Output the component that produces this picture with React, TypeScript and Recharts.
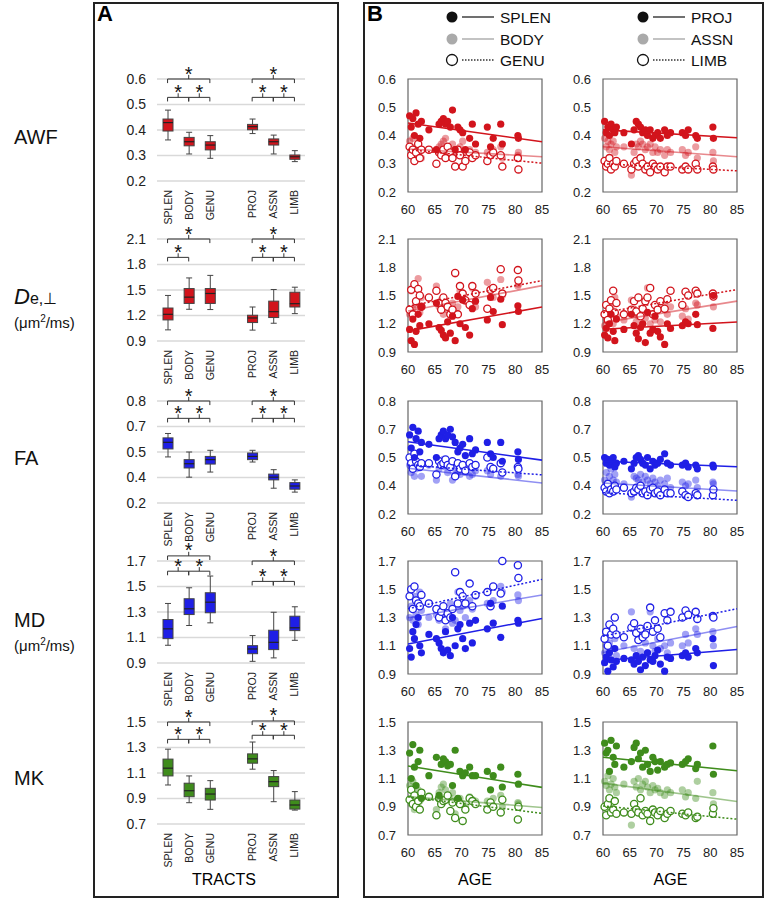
import React from 'react';
import {
  ComposedChart, Bar, XAxis, YAxis, CartesianGrid, ReferenceLine, ReferenceDot,
  ScatterChart, Scatter, ReferenceArea,
} from 'recharts';

const FONT = 'Arial, "Liberation Sans", Helvetica, sans-serif';

const RED = '#d2141c';
const BLUE = '#1f1fe6';
const GREEN = '#3f8c1c';

// box plot categories (empty slot 4 separates the two groups)
const TRACTS = ['SPLEN', 'BODY', 'GENU', '', 'PROJ', 'ASSN', 'LIMB'];
const TRACT_POS = [1, 2, 3, 5, 6, 7];

// y ticks per metric, with the labels as printed
const AWF_TICKS = [0.2, 0.3, 0.4, 0.5, 0.6];
const AWF_LABELS = ['0.2', '0.3', '0.4', '0.5', '0.6'];
const DE_TICKS = [0.9, 1.2, 1.5, 1.8, 2.1];
const DE_LABELS = ['0.9', '1.2', '1.5', '1.8', '2.1'];
const FA_TICKS = [0.2, 0.35, 0.5, 0.65, 0.8];
const FA_LABELS = ['0.2', '0.4', '0.5', '0.7', '0.8'];
const MD_TICKS = [0.9, 1.1, 1.3, 1.5, 1.7];
const MD_LABELS = ['0.9', '1.1', '1.3', '1.5', '1.7'];
const MK_TICKS = [0.7, 0.9, 1.1, 1.3, 1.5];
const MK_LABELS = ['0.7', '0.9', '1.1', '1.3', '1.5'];

// [min, q1, median, q3, max] for SPLEN, BODY, GENU, PROJ, ASSN, LIMB
const AWF_BOX = [
  [0.361, 0.396, 0.429, 0.443, 0.478], [0.306, 0.338, 0.354, 0.371, 0.391], [0.289, 0.322, 0.341, 0.354, 0.378],
  [0.386, 0.401, 0.413, 0.422, 0.443], [0.306, 0.341, 0.354, 0.365, 0.38], [0.276, 0.285, 0.295, 0.302, 0.319],
];
const DE_BOX = [
  [1.031, 1.148, 1.214, 1.288, 1.436], [1.273, 1.342, 1.416, 1.517, 1.642], [1.27, 1.342, 1.459, 1.517, 1.672],
  [1.028, 1.117, 1.171, 1.203, 1.3], [1.109, 1.176, 1.245, 1.369, 1.506], [1.222, 1.3, 1.339, 1.474, 1.533],
];
const FA_BOX = [
  [0.471, 0.518, 0.557, 0.583, 0.609], [0.352, 0.406, 0.431, 0.455, 0.5], [0.382, 0.429, 0.455, 0.474, 0.51],
  [0.441, 0.455, 0.474, 0.494, 0.51], [0.287, 0.336, 0.352, 0.37, 0.396], [0.264, 0.281, 0.3, 0.32, 0.336],
];
const MD_BOX = [
  [1.039, 1.091, 1.168, 1.241, 1.367], [1.194, 1.28, 1.325, 1.404, 1.49], [1.215, 1.294, 1.377, 1.451, 1.582],
  [0.913, 0.973, 1.01, 1.036, 1.115], [0.94, 1.005, 1.062, 1.157, 1.298], [1.078, 1.154, 1.176, 1.267, 1.341],
];
const MK_BOX = [
  [1.006, 1.077, 1.138, 1.209, 1.287], [0.867, 0.914, 0.961, 1.02, 1.077], [0.815, 0.888, 0.935, 0.98, 1.04],
  [1.13, 1.177, 1.211, 1.25, 1.343], [0.875, 0.993, 1.032, 1.072, 1.119], [0.809, 0.817, 0.849, 0.888, 0.954],
];

// significance brackets: [from slot, to slot, height as fraction of the axis]
const AWF_BRACKETS = [[1, 3, 1], [1, 2, 0.82], [2, 3, 0.82], [5, 7, 1], [5, 6, 0.82], [6, 7, 0.82]];
const DE_BRACKETS = [[1, 3, 1], [1, 2, 0.82], [5, 7, 1], [5, 6, 0.82], [6, 7, 0.82]];
const FA_BRACKETS = [[1, 3, 1], [1, 2, 0.83], [2, 3, 0.83], [5, 7, 1], [5, 6, 0.83], [6, 7, 0.83]];
const MD_BRACKETS = [[1, 3, 1.05], [1, 2, 0.9], [2, 3, 0.9], [5, 7, 1], [5, 6, 0.8], [6, 7, 0.8]];
const MK_BRACKETS = [[1, 3, 1], [1, 2, 0.83], [2, 3, 0.83], [5, 7, 1.01], [5, 6, 0.87], [6, 7, 0.87]];

// subject ages (same subjects in every scatter panel)
const AGES = [
  60.3, 60.6, 60.9, 61.2, 61.5, 61.9, 62.2, 62.5, 63.9, 65.3, 65.8, 66.2, 66.6, 67.0, 67.4, 67.9,
  68.3, 68.8, 69.3, 69.7, 70.2, 70.7, 71.5, 72.0, 72.6, 74.8, 75.4, 75.9, 77.3, 77.6, 80.5, 80.6,
];
const AGE_TICKS = [60, 65, 70, 75, 80, 85];

const AWF_SPLEN = [0.47, 0.43, 0.46, 0.40, 0.48, 0.44, 0.39, 0.45, 0.42, 0.35, 0.44, 0.45, 0.46, 0.44, 0.45, 0.43, 0.49, 0.35, 0.43, 0.42, 0.41, 0.35, 0.39, 0.44, 0.37, 0.43, 0.36, 0.39, 0.44, 0.37, 0.40, 0.39];
const AWF_BODY = [0.38, 0.36, 0.39, 0.34, 0.33, 0.36, 0.35, 0.32, 0.35, 0.30, 0.36, 0.37, 0.38, 0.39, 0.36, 0.34, 0.37, 0.35, 0.33, 0.36, 0.38, 0.34, 0.35, 0.33, 0.34, 0.34, 0.33, 0.35, 0.36, 0.32, 0.33, 0.34];
const AWF_GENU = [0.36, 0.33, 0.35, 0.31, 0.34, 0.37, 0.32, 0.35, 0.35, 0.30, 0.34, 0.33, 0.35, 0.32, 0.36, 0.34, 0.32, 0.29, 0.35, 0.33, 0.29, 0.31, 0.34, 0.32, 0.33, 0.31, 0.33, 0.34, 0.33, 0.29, 0.32, 0.28];
const AWF_PROJ = [0.45, 0.41, 0.43, 0.40, 0.44, 0.42, 0.41, 0.43, 0.41, 0.37, 0.42, 0.45, 0.44, 0.43, 0.41, 0.42, 0.40, 0.42, 0.39, 0.40, 0.41, 0.39, 0.42, 0.40, 0.41, 0.41, 0.40, 0.42, 0.40, 0.39, 0.43, 0.39];
const AWF_ASSN = [0.39, 0.36, 0.38, 0.35, 0.37, 0.38, 0.34, 0.36, 0.36, 0.26, 0.34, 0.37, 0.36, 0.38, 0.37, 0.35, 0.36, 0.37, 0.34, 0.36, 0.34, 0.35, 0.33, 0.35, 0.34, 0.35, 0.33, 0.34, 0.36, 0.32, 0.34, 0.31];
const AWF_LIMB = [0.31, 0.29, 0.30, 0.32, 0.28, 0.30, 0.29, 0.31, 0.30, 0.28, 0.30, 0.31, 0.29, 0.32, 0.30, 0.28, 0.29, 0.27, 0.30, 0.29, 0.28, 0.29, 0.27, 0.29, 0.29, 0.28, 0.29, 0.28, 0.30, 0.28, 0.29, 0.28];

const DE_SPLEN = [1.14, 1.02, 1.25, 0.98, 1.12, 1.30, 1.18, 1.38, 1.20, 1.42, 1.16, 1.13, 1.08, 1.05, 1.22, 1.10, 1.28, 1.02, 1.49, 1.20, 1.45, 1.16, 1.08, 1.36, 1.44, 1.24, 1.48, 1.33, 1.46, 1.19, 1.39, 1.33];
const DE_BODY = [1.30, 1.55, 1.36, 1.62, 1.40, 1.68, 1.32, 1.48, 1.47, 1.60, 1.38, 1.45, 1.30, 1.40, 1.35, 1.28, 1.42, 1.73, 1.38, 1.55, 1.50, 1.44, 1.40, 1.58, 1.38, 1.64, 1.55, 1.48, 1.67, 1.50, 1.60, 1.62];
const DE_GENU = [1.35, 1.56, 1.30, 1.62, 1.44, 1.57, 1.50, 1.38, 1.48, 1.55, 1.42, 1.35, 1.48, 1.42, 1.38, 1.30, 1.35, 1.74, 1.30, 1.60, 1.52, 1.45, 1.40, 1.60, 1.52, 1.36, 1.56, 1.58, 1.78, 1.52, 1.77, 1.66];
const DE_PROJ = [1.08, 1.15, 1.05, 1.20, 1.30, 1.12, 1.02, 1.25, 1.14, 1.30, 1.18, 1.10, 1.04, 1.16, 1.20, 1.00, 1.32, 1.10, 1.14, 1.28, 1.12, 1.06, 0.98, 1.20, 1.15, 1.18, 1.22, 1.20, 1.30, 1.19, 1.15, 1.50];
const DE_ASSN = [1.18, 1.25, 1.22, 1.30, 1.38, 1.20, 1.48, 1.28, 1.24, 1.45, 1.30, 1.22, 1.28, 1.33, 1.20, 1.26, 1.58, 1.20, 1.30, 1.24, 1.35, 1.22, 1.42, 1.30, 1.38, 1.28, 1.36, 1.25, 1.42, 1.40, 1.52, 1.38];
const DE_LIMB = [1.30, 1.40, 1.24, 1.36, 1.45, 1.55, 1.32, 1.42, 1.30, 1.35, 1.44, 1.33, 1.48, 1.28, 1.36, 1.44, 1.48, 1.58, 1.30, 1.40, 1.35, 1.44, 1.36, 1.46, 1.55, 1.40, 1.54, 1.50, 1.55, 1.52, 1.52, 1.49];

const FA_SPLEN = [0.62, 0.55, 0.66, 0.50, 0.60, 0.64, 0.53, 0.58, 0.57, 0.50, 0.60, 0.62, 0.64, 0.60, 0.62, 0.65, 0.61, 0.58, 0.53, 0.55, 0.57, 0.51, 0.60, 0.52, 0.54, 0.58, 0.52, 0.50, 0.58, 0.48, 0.53, 0.49];
const FA_BODY = [0.46, 0.42, 0.48, 0.40, 0.44, 0.47, 0.45, 0.40, 0.46, 0.38, 0.44, 0.47, 0.49, 0.45, 0.42, 0.46, 0.38, 0.44, 0.42, 0.41, 0.44, 0.42, 0.40, 0.41, 0.43, 0.43, 0.41, 0.44, 0.40, 0.42, 0.41, 0.40];
const FA_GENU = [0.50, 0.47, 0.44, 0.52, 0.48, 0.46, 0.45, 0.47, 0.47, 0.41, 0.48, 0.46, 0.47, 0.49, 0.46, 0.45, 0.48, 0.40, 0.47, 0.44, 0.46, 0.43, 0.47, 0.45, 0.46, 0.50, 0.45, 0.44, 0.47, 0.42, 0.45, 0.44];
const FA_PROJ = [0.50, 0.47, 0.49, 0.46, 0.48, 0.50, 0.45, 0.47, 0.48, 0.44, 0.47, 0.50, 0.51, 0.49, 0.47, 0.46, 0.50, 0.44, 0.48, 0.46, 0.47, 0.49, 0.52, 0.47, 0.46, 0.46, 0.47, 0.45, 0.46, 0.44, 0.46, 0.45];
const FA_ASSN = [0.38, 0.42, 0.36, 0.40, 0.44, 0.38, 0.41, 0.37, 0.36, 0.29, 0.40, 0.39, 0.38, 0.41, 0.37, 0.40, 0.38, 0.36, 0.39, 0.37, 0.35, 0.38, 0.36, 0.39, 0.34, 0.37, 0.35, 0.36, 0.38, 0.34, 0.37, 0.36];
const FA_LIMB = [0.34, 0.32, 0.36, 0.31, 0.33, 0.32, 0.35, 0.33, 0.34, 0.31, 0.32, 0.34, 0.33, 0.35, 0.31, 0.32, 0.30, 0.33, 0.34, 0.31, 0.32, 0.30, 0.33, 0.31, 0.31, 0.32, 0.30, 0.29, 0.31, 0.30, 0.30, 0.33];

const MD_SPLEN = [1.08, 1.02, 1.20, 1.15, 1.25, 1.30, 1.10, 1.05, 1.18, 1.15, 1.12, 1.08, 1.05, 1.20, 1.07, 1.03, 1.30, 1.10, 1.22, 1.25, 1.15, 1.08, 1.26, 1.12, 1.28, 1.22, 1.40, 1.26, 1.16, 1.38, 1.28, 1.26];
const MD_BODY = [1.30, 1.38, 1.28, 1.45, 1.32, 1.25, 1.48, 1.35, 1.30, 1.32, 1.28, 1.35, 1.30, 1.22, 1.33, 1.40, 1.26, 1.28, 1.48, 1.35, 1.38, 1.30, 1.42, 1.36, 1.45, 1.40, 1.38, 1.42, 1.52, 1.48, 1.46, 1.42];
const MD_GENU = [1.45, 1.50, 1.36, 1.52, 1.42, 1.40, 1.38, 1.46, 1.40, 1.36, 1.30, 1.34, 1.38, 1.28, 1.33, 1.30, 1.36, 1.62, 1.40, 1.48, 1.45, 1.40, 1.54, 1.38, 1.46, 1.48, 1.38, 1.52, 1.47, 1.70, 1.67, 1.58];
const MD_PROJ = [0.98, 1.02, 0.92, 1.05, 1.00, 0.95, 1.08, 0.99, 1.01, 1.00, 0.97, 1.03, 0.99, 0.93, 1.02, 0.96, 1.05, 1.00, 0.99, 1.03, 1.07, 0.97, 0.92, 1.02, 1.01, 1.03, 1.05, 1.02, 1.08, 1.05, 1.15, 0.96];
const MD_ASSN = [1.05, 1.10, 1.02, 1.12, 1.20, 1.08, 1.15, 1.03, 1.10, 1.34, 1.08, 1.02, 1.14, 1.06, 1.20, 1.12, 1.05, 1.34, 1.10, 1.06, 1.15, 1.08, 1.10, 1.05, 1.12, 1.10, 1.18, 1.12, 1.22, 1.18, 1.20, 1.10];
const MD_LIMB = [1.15, 1.20, 1.10, 1.25, 1.18, 1.22, 1.30, 1.18, 1.16, 1.23, 1.26, 1.19, 1.14, 1.22, 1.16, 1.18, 1.24, 1.37, 1.20, 1.28, 1.22, 1.16, 1.33, 1.28, 1.34, 1.30, 1.35, 1.32, 1.34, 1.29, 1.31, 1.30];

const MK_SPLEN = [1.28, 1.10, 1.34, 1.18, 1.05, 1.22, 1.30, 0.96, 1.12, 1.25, 0.98, 1.20, 1.24, 1.22, 1.19, 1.20, 1.05, 1.30, 0.96, 1.15, 1.12, 1.14, 1.18, 1.12, 1.12, 1.15, 1.02, 1.12, 1.18, 1.04, 1.13, 1.06];
const MK_BODY = [1.05, 0.92, 1.08, 0.88, 0.98, 1.02, 0.94, 0.96, 0.97, 0.88, 1.00, 1.04, 1.06, 1.02, 0.98, 0.96, 1.00, 0.85, 0.94, 0.96, 0.92, 0.90, 0.97, 0.95, 0.94, 0.94, 0.92, 0.96, 0.98, 0.90, 0.93, 0.92];
const MK_GENU = [0.95, 1.02, 0.92, 0.98, 0.90, 0.94, 0.88, 1.00, 0.97, 0.84, 0.96, 0.92, 0.94, 0.95, 0.98, 0.87, 0.93, 0.82, 0.95, 0.92, 0.80, 0.88, 0.96, 0.94, 0.92, 0.88, 0.93, 0.90, 0.86, 0.95, 0.81, 0.90];
const MK_PROJ = [1.35, 1.28, 1.30, 1.15, 1.37, 1.25, 1.20, 1.33, 1.18, 1.22, 1.32, 1.35, 1.24, 1.28, 1.18, 1.30, 1.20, 1.15, 1.25, 1.22, 1.16, 1.22, 1.18, 1.20, 1.21, 1.20, 1.22, 1.24, 1.17, 1.20, 1.33, 1.13];
const MK_ASSN = [1.08, 1.05, 1.12, 1.02, 1.06, 1.10, 1.04, 1.00, 1.06, 0.77, 1.08, 1.04, 1.10, 1.02, 1.06, 1.08, 1.04, 1.00, 1.05, 1.02, 1.03, 1.00, 0.98, 1.02, 1.00, 1.02, 0.97, 1.00, 0.96, 1.08, 1.00, 0.92];
const MK_LIMB = [0.90, 0.84, 0.92, 0.96, 0.86, 0.88, 0.94, 0.85, 0.86, 0.85, 0.92, 0.88, 0.86, 0.96, 0.84, 0.87, 0.85, 0.80, 0.88, 0.86, 0.84, 0.87, 0.82, 0.85, 0.87, 0.85, 0.84, 0.86, 0.82, 0.83, 0.85, 0.89];

// fitted lines, value at age 60 and at age 85: [filled, light, open]
const AWF_CC_TREND = [[0.444, 0.378], [0.352, 0.325], [0.35, 0.302]];
const AWF_WM_TREND = [[0.42, 0.392], [0.36, 0.325], [0.30, 0.275]];
const DE_CC_TREND = [[1.124, 1.377], [1.335, 1.605], [1.387, 1.658]];
const DE_WM_TREND = [[1.142, 1.219], [1.212, 1.44], [1.318, 1.563]];
const FA_CC_TREND = [[0.584, 0.486], [0.443, 0.365], [0.46, 0.408]];
const FA_WM_TREND = [[0.48, 0.451], [0.365, 0.322], [0.313, 0.273]];
const MD_CC_TREND = [[1.113, 1.293], [1.298, 1.459], [1.362, 1.57]];
const MD_WM_TREND = [[0.996, 1.074], [1.052, 1.236], [1.168, 1.362]];
const MK_CC_TREND = [[1.188, 1.037], [0.972, 0.895], [0.97, 0.853]];
const MK_WM_TREND = [[1.25, 1.155], [1.067, 0.937], [0.906, 0.812]];

const ROWS = [
  { top: 79, ticks: AWF_TICKS, labels: AWF_LABELS, box: AWF_BOX, brackets: AWF_BRACKETS, color: RED,
    cc: [AWF_SPLEN, AWF_BODY, AWF_GENU], wm: [AWF_PROJ, AWF_ASSN, AWF_LIMB], ccTrend: AWF_CC_TREND, wmTrend: AWF_WM_TREND },
  { top: 239, ticks: DE_TICKS, labels: DE_LABELS, box: DE_BOX, brackets: DE_BRACKETS, color: RED,
    cc: [DE_SPLEN, DE_BODY, DE_GENU], wm: [DE_PROJ, DE_ASSN, DE_LIMB], ccTrend: DE_CC_TREND, wmTrend: DE_WM_TREND },
  { top: 401, ticks: FA_TICKS, labels: FA_LABELS, box: FA_BOX, brackets: FA_BRACKETS, color: BLUE,
    cc: [FA_SPLEN, FA_BODY, FA_GENU], wm: [FA_PROJ, FA_ASSN, FA_LIMB], ccTrend: FA_CC_TREND, wmTrend: FA_WM_TREND },
  { top: 561, ticks: MD_TICKS, labels: MD_LABELS, box: MD_BOX, brackets: MD_BRACKETS, color: BLUE,
    cc: [MD_SPLEN, MD_BODY, MD_GENU], wm: [MD_PROJ, MD_ASSN, MD_LIMB], ccTrend: MD_CC_TREND, wmTrend: MD_WM_TREND },
  { top: 722, ticks: MK_TICKS, labels: MK_LABELS, box: MK_BOX, brackets: MK_BRACKETS, color: GREEN,
    cc: [MK_SPLEN, MK_BODY, MK_GENU], wm: [MK_PROJ, MK_ASSN, MK_LIMB], ccTrend: MK_CC_TREND, wmTrend: MK_WM_TREND },
];

const TractTick = (props: any) => {
  const { x, y, payload } = props;
  const name = TRACTS[Math.round(payload.value) - 1];
  if (!name) return <g />;
  return (
    <text x={x} y={y + 1} transform={`rotate(-90 ${x} ${y + 1})`} textAnchor="end" dominantBaseline="central"
      fontSize={10.5} fontFamily={FONT} fill="#222">{name}</text>
  );
};

const BoxShape = (props: any) => {
  const { x, y, width, height, payload, fill } = props;
  if (!payload || !payload.stats) return <g />;
  const [mn, q1, med, q3, mx] = payload.stats;
  const top = Math.min(y, y + height);
  const bot = Math.max(y, y + height);
  const py = (v: number) => bot - ((v - mn) / (mx - mn)) * (bot - top);
  const cx = x + width / 2;
  return (
    <g>
      <line x1={cx} x2={cx} y1={py(mx)} y2={py(mn)} stroke="#444" strokeWidth={1} />
      <line x1={cx - 3} x2={cx + 3} y1={py(mx)} y2={py(mx)} stroke="#444" strokeWidth={1} />
      <line x1={cx - 3} x2={cx + 3} y1={py(mn)} y2={py(mn)} stroke="#444" strokeWidth={1} />
      <rect x={x} y={py(q3)} width={width} height={Math.max(py(q1) - py(q3), 1)} fill={fill} stroke="#444" strokeWidth={1} />
      <line x1={x} x2={x + width} y1={py(med)} y2={py(med)} stroke="#222" strokeWidth={1.2} />
    </g>
  );
};

function BoxRow({ row }: { row: any }) {
  const lo = row.ticks[0];
  const hi = row.ticks[row.ticks.length - 1];
  const span = hi - lo;
  const d = span * 0.04;
  const data = TRACT_POS.map((pos, i) => {
    const stats = row.box[i];
    return { pos, range: [stats[0], stats[4]], stats };
  });
  const marks: any[] = [];
  row.brackets.forEach(([a, b, f]: number[], j: number) => {
    const L = lo + f * span;
    const m = (a + b) / 2;
    const common = { stroke: '#333', strokeWidth: 1, ifOverflow: 'visible' as const };
    marks.push(<ReferenceLine key={`h${j}`} {...common} segment={[{ x: a, y: L }, { x: b, y: L }]} />);
    marks.push(<ReferenceLine key={`a${j}`} {...common} segment={[{ x: a, y: L }, { x: a, y: L - d }]} />);
    marks.push(<ReferenceLine key={`b${j}`} {...common} segment={[{ x: b, y: L }, { x: b, y: L - d }]} />);
    marks.push(<ReferenceLine key={`m${j}`} {...common} segment={[{ x: m, y: L }, { x: m, y: L + d }]} />);
    marks.push(
      <ReferenceDot key={`s${j}`} x={m} y={L} r={0} ifOverflow="visible"
        shape={(p: any) => (
          <text x={p.cx} y={p.cy + 1.5} textAnchor="middle" fontSize={20} fontFamily={FONT} fill="#111">*</text>
        )} />,
    );
  });
  return (
    <div style={{ position: 'absolute', left: 100, top: row.top - 30 }}>
      <ComposedChart width={215} height={177} data={data} margin={{ top: 30, right: 10, bottom: 0, left: 17 }}>
        <CartesianGrid vertical={false} stroke="#d9d9d9" strokeWidth={1.5} />
        <XAxis dataKey="pos" type="number" domain={[0.5, 7.5]} allowDataOverflow ticks={TRACT_POS} interval={0}
          axisLine={false} tickLine={false} height={45} tick={<TractTick />} />
        <YAxis type="number" domain={[lo, hi]} ticks={row.ticks} interval={0} axisLine={false} tickLine={false}
          width={40} tickMargin={5} tickFormatter={(v: number, i: number) => row.labels[i]}
          tick={{ fontSize: 14, fill: '#222', fontFamily: FONT }} />
        <Bar dataKey="range" barSize={10} fill={row.color} shape={<BoxShape />} isAnimationActive={false} />
        {marks}
      </ComposedChart>
    </div>
  );
}

const dot = (fill: string, stroke: string, fillOpacity = 1) => (p: any) => (
  <circle cx={p.cx} cy={p.cy} r={3.6} fill={fill} fillOpacity={fillOpacity} stroke={stroke} strokeWidth={stroke === 'none' ? 0 : 1.3} />
);
const noDot = () => <g />;

function ScatterPanel({ left, row, series, trend }: { left: number; row: any; series: number[][]; trend: number[][] }) {
  const lo = row.ticks[0];
  const hi = row.ticks[row.ticks.length - 1];
  const c = row.color;
  const pts = (vals: number[]) => AGES.map((age, i) => ({ age, v: vals[i] }));
  const line = (t: number[]) => [{ age: 60, v: t[0] }, { age: 85, v: t[1] }];
  return (
    <div style={{ position: 'absolute', left, top: row.top - 10 }}>
      <ScatterChart width={192} height={153} margin={{ top: 10, right: 10, bottom: 0, left: 8 }}>
        <XAxis type="number" dataKey="age" domain={[60, 85]} ticks={AGE_TICKS} interval={0} axisLine={false}
          tickLine={false} tickMargin={7} height={30} tick={{ fontSize: 13, fill: '#222', fontFamily: FONT }} />
        <YAxis type="number" dataKey="v" domain={[lo, hi]} ticks={row.ticks} interval={0} axisLine={false}
          tickLine={false} width={40} tickMargin={6} tickFormatter={(v: number, i: number) => row.labels[i]}
          tick={{ fontSize: 13, fill: '#222', fontFamily: FONT }} />
        <ReferenceArea x1={60} x2={85} y1={lo} y2={hi} fill="none" stroke="#666" strokeWidth={1.2} ifOverflow="visible" />
        <Scatter data={pts(series[1])} fill={c} shape={dot(c, 'none', 0.42)} isAnimationActive={false} />
        <Scatter data={pts(series[2])} fill={c} shape={dot('#fff', c)} isAnimationActive={false} />
        <Scatter data={pts(series[0])} fill={c} shape={dot(c, 'none')} isAnimationActive={false} />
        <Scatter data={line(trend[1])} fill={c} shape={noDot} line={{ stroke: c, strokeOpacity: 0.5, strokeWidth: 1.6 }}
          isAnimationActive={false} />
        <Scatter data={line(trend[2])} fill={c} shape={noDot} line={{ stroke: c, strokeWidth: 1.5, strokeDasharray: '2 2' }}
          isAnimationActive={false} />
        <Scatter data={line(trend[0])} fill={c} shape={noDot} line={{ stroke: c, strokeWidth: 1.6 }}
          isAnimationActive={false} />
      </ScatterChart>
    </div>
  );
}

const LEGEND_LEFT = ['SPLEN', 'BODY', 'GENU'];
const LEGEND_RIGHT = ['PROJ', 'ASSN', 'LIMB'];

function LegendBlock({ x, names }: { x: number; names: string[] }) {
  const ys = [17, 39, 60];
  return (
    <g>
      {names.map((n, i) => (
        <g key={n}>
          <circle cx={x} cy={ys[i]} r={5.5} fill={i === 0 ? '#111' : i === 1 ? '#aaa' : '#fff'}
            stroke={i === 2 ? '#111' : 'none'} strokeWidth={1.3} />
          <line x1={x + 10} x2={x + 42} y1={ys[i]} y2={ys[i]} stroke={i === 1 ? '#aaa' : '#333'} strokeWidth={1.4}
            strokeDasharray={i === 2 ? '1.5 1.5' : undefined} />
          <text x={x + 48} y={ys[i] + 5.5} fontSize={15.5} fontFamily={FONT} fill="#111">{n}</text>
        </g>
      ))}
    </g>
  );
}

const labelStyle = (top: number, size: number): React.CSSProperties => ({
  position: 'absolute', left: 14, top, fontSize: size, lineHeight: 1, fontFamily: FONT, color: '#111', whiteSpace: 'nowrap',
});

export default function App() {
  return (
    <div style={{ position: 'absolute', left: 0, top: 0, width: 766, height: 900, background: '#fff', fontFamily: FONT }}>
      <div style={{ position: 'absolute', left: 93, top: 2, width: 246, height: 896, border: '2px solid #222', boxSizing: 'border-box' }} />
      <div style={{ position: 'absolute', left: 363, top: 2, width: 401, height: 896, border: '2px solid #222', boxSizing: 'border-box' }} />
      <div style={{ position: 'absolute', left: 97, top: 3, fontSize: 22, fontWeight: 'bold', lineHeight: 1 }}>A</div>
      <div style={{ position: 'absolute', left: 367, top: 3, fontSize: 22, fontWeight: 'bold', lineHeight: 1 }}>B</div>

      <div style={labelStyle(127, 20)}>AWF</div>
      <div style={labelStyle(286, 22)}>
        <i>D</i><span style={{ fontSize: 16 }}>e,⊥</span>
      </div>
      <div style={labelStyle(314, 15)}>(μm<sup style={{ fontSize: 10 }}>2</sup>/ms)</div>
      <div style={labelStyle(448, 20)}>FA</div>
      <div style={labelStyle(610, 20)}>MD</div>
      <div style={labelStyle(637, 15)}>(μm<sup style={{ fontSize: 10 }}>2</sup>/ms)</div>
      <div style={labelStyle(768, 20)}>MK</div>

      <svg style={{ position: 'absolute', left: 0, top: 0 }} width={766} height={80}>
        <LegendBlock x={452} names={LEGEND_LEFT} />
        <LegendBlock x={643} names={LEGEND_RIGHT} />
      </svg>

      {ROWS.map((row, i) => (
        <React.Fragment key={i}>
          <BoxRow row={row} />
          <ScatterPanel left={360} row={row} series={row.cc} trend={row.ccTrend} />
          <ScatterPanel left={555} row={row} series={row.wm} trend={row.wmTrend} />
        </React.Fragment>
      ))}

      <div style={{ position: 'absolute', left: 0, width: 448, top: 872, textAlign: 'center', fontSize: 16, lineHeight: 1 }}>TRACTS</div>
      <div style={{ position: 'absolute', left: 408, width: 134, top: 872, textAlign: 'center', fontSize: 16, lineHeight: 1 }}>AGE</div>
      <div style={{ position: 'absolute', left: 603, width: 135, top: 872, textAlign: 'center', fontSize: 16, lineHeight: 1 }}>AGE</div>
    </div>
  );
}
